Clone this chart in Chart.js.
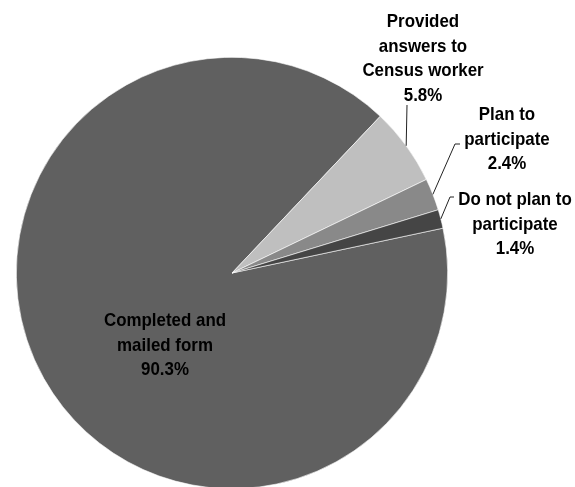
<!DOCTYPE html>
<html>
<head>
<meta charset="utf-8">
<script src="https://cdn.jsdelivr.net/npm/chart.js@4"></script>
<style>
  html, body { margin: 0; padding: 0; background: #fff; overflow: hidden; }
  canvas { display: block; }
</style>
</head>
<body>
<canvas id="pieChart" width="575" height="500"></canvas>
<script>
// Census participation shares
const categories = [
  ["Completed and", "mailed form"],
  ["Provided", "answers to", "Census worker"],
  ["Plan to", "participate"],
  ["Do not plan to", "participate"]
];
const values = [90.3, 5.8, 2.4, 1.4];
const sliceColors = ["#606060", "#bfbfbf", "#898989", "#454545"];

// where each label block sits (center x, first line y) and the leader tick
const labelSpots = [
  { x: 165, y: 321, leader: null },
  { x: 423, y: 22, leader: [[407, 105]] },
  { x: 507, y: 115, leader: [[460, 144], [455, 144]] },
  { x: 515, y: 200, leader: [[454, 197], [450, 197]] }
];
const lineGap = 24.5;
// Calibri-ish look: bold sans, squeezed a bit horizontally
const labelFont = "bold 19px 'Liberation Sans', Arial, sans-serif";
const squeeze = 0.89;

const labelPlugin = {
  id: 'sliceLabels',
  afterDatasetsDraw(chart) {
    const ctx = chart.ctx;
    const arcs = chart.getDatasetMeta(0).data;
    ctx.save();
    ctx.font = labelFont;
    ctx.fillStyle = '#000';
    ctx.textAlign = 'center';
    ctx.textBaseline = 'middle';
    arcs.forEach((arc, i) => {
      const spot = labelSpots[i];
      const lines = categories[i].concat([values[i].toFixed(1) + '%']);
      lines.forEach((t, k) => {
        ctx.save();
        ctx.translate(spot.x, spot.y + k * lineGap);
        ctx.scale(squeeze, 1);
        ctx.fillText(t, 0, 0);
        ctx.restore();
      });
      if (spot.leader) {
        const p = arc.getProps(['x', 'y', 'startAngle', 'endAngle', 'outerRadius'], true);
        const mid = (p.startAngle + p.endAngle) / 2;
        const ex = p.x + Math.cos(mid) * p.outerRadius;
        const ey = p.y + Math.sin(mid) * p.outerRadius;
        ctx.beginPath();
        ctx.strokeStyle = '#222';
        ctx.lineWidth = 1;
        ctx.moveTo(spot.leader[0][0], spot.leader[0][1]);
        spot.leader.slice(1).forEach(pt => ctx.lineTo(pt[0], pt[1]));
        ctx.lineTo(ex, ey);
        ctx.stroke();
      }
    });
    ctx.restore();
  }
};

new Chart(document.getElementById('pieChart').getContext('2d'), {
  type: 'pie',
  data: {
    labels: categories.map(c => c.join(' ')),
    datasets: [{
      data: values,
      backgroundColor: sliceColors,
      borderColor: '#ffffff',
      borderWidth: 0.6
    }]
  },
  options: {
    responsive: false,
    animation: false,
    rotation: 78,
    layout: { padding: { left: 16, top: 57, right: 127, bottom: 11 } },
    plugins: {
      legend: { display: false },
      tooltip: { enabled: false }
    }
  },
  plugins: [labelPlugin]
});
</script>
</body>
</html>
